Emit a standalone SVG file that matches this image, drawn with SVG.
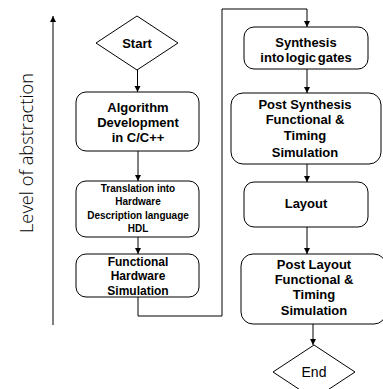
<svg xmlns="http://www.w3.org/2000/svg" width="383" height="389" viewBox="0 0 383 389">
<defs>
<marker id="ah" markerWidth="7" markerHeight="7" refX="6" refY="3" orient="auto" markerUnits="userSpaceOnUse">
<path d="M0,0 L6,3 L0,6 z" fill="#000"/>
</marker>
<style>
.box{fill:#fff;stroke:#000;stroke-width:1}
.t{font-family:"Liberation Sans",Arial,sans-serif;font-weight:bold;fill:#000;text-anchor:middle}
.c{fill:none;stroke:#000;stroke-width:1}
</style>
</defs>
<rect width="383" height="389" fill="#fff"/>
<g id="axis">
<line class="c" x1="53" y1="325" x2="53" y2="16" marker-end="url(#ah)"/>
<text transform="translate(33,153) rotate(-90)" text-anchor="middle" font-family="'Open Sans','Liberation Sans',sans-serif" font-weight="300" font-size="19" textLength="160" lengthAdjust="spacingAndGlyphs" fill="#000">Level of abstraction</text>
</g>
<g id="connectors">
<line class="c" x1="137.5" y1="70" x2="137.5" y2="92" marker-end="url(#ah)"/>
<line class="c" x1="138" y1="151" x2="138" y2="181" marker-end="url(#ah)"/>
<line class="c" x1="138" y1="237" x2="138" y2="254" marker-end="url(#ah)"/>
<polyline class="c" points="138,297 138,316 222,316 222,9 307,9 307,27" marker-end="url(#ah)"/>
<line class="c" x1="307" y1="69" x2="307" y2="93" marker-end="url(#ah)"/>
<line class="c" x1="307" y1="164" x2="307" y2="182" marker-end="url(#ah)"/>
<line class="c" x1="307" y1="227" x2="307" y2="254" marker-end="url(#ah)"/>
<line class="c" x1="313" y1="324" x2="313" y2="345" marker-end="url(#ah)"/>
</g>
<g id="start">
<polygon class="box" points="137,16 178,43 137,70 96,43"/>
<text class="t" x="137" y="48" font-size="13">Start</text>
</g>
<g id="algorithm">
<rect class="box" x="76" y="92" width="123" height="59" rx="10"/>
<text class="t" x="138" y="112" font-size="13">Algorithm</text>
<text class="t" x="138" y="127" font-size="13">Development</text>
<text class="t" x="138" y="142" font-size="13">in C/C++</text>
</g>
<g id="translation">
<rect class="box" x="76" y="181" width="123" height="56" rx="10"/>
<text class="t" x="138" y="192" font-size="10">Translation into</text>
<text class="t" x="138" y="205" font-size="10">Hardware</text>
<text class="t" x="138" y="218.5" font-size="10">Description language</text>
<text class="t" x="138" y="231.5" font-size="10">HDL</text>
</g>
<g id="functional">
<rect class="box" x="76" y="254" width="123" height="43" rx="10"/>
<text class="t" x="138" y="266" font-size="12">Functional</text>
<text class="t" x="138" y="280" font-size="12">Hardware</text>
<text class="t" x="138" y="295" font-size="12">Simulation</text>
</g>
<g id="synthesis">
<rect class="box" x="244" y="27" width="124" height="42" rx="10"/>
<text class="t" x="306" y="47" font-size="13">Synthesis</text>
<text class="t" x="306" y="62" font-size="13" word-spacing="-2">into logic gates</text>
</g>
<g id="postsynthesis">
<rect class="box" x="231" y="93" width="150" height="71" rx="12"/>
<text class="t" x="305" y="109" font-size="13">Post Synthesis</text>
<text class="t" x="305" y="124" font-size="13">Functional &amp;</text>
<text class="t" x="305" y="140" font-size="13">Timing</text>
<text class="t" x="305" y="157" font-size="13">Simulation</text>
</g>
<g id="layout">
<rect class="box" x="244" y="182" width="124" height="45" rx="10"/>
<text class="t" x="306" y="208" font-size="13">Layout</text>
</g>
<g id="postlayout">
<rect class="box" x="241" y="254" width="145" height="70" rx="12"/>
<text class="t" x="314" y="269" font-size="13">Post Layout</text>
<text class="t" x="314" y="284" font-size="13">Functional &amp;</text>
<text class="t" x="314" y="299" font-size="13">Timing</text>
<text class="t" x="314" y="315" font-size="13">Simulation</text>
</g>
<g id="end">
<polygon class="box" points="314,345 355,372 314,399 273,372"/>
<text x="314" y="377" font-size="14" text-anchor="middle" font-family="'Liberation Sans',Arial,sans-serif" fill="#000">End</text>
</g>
</svg>
